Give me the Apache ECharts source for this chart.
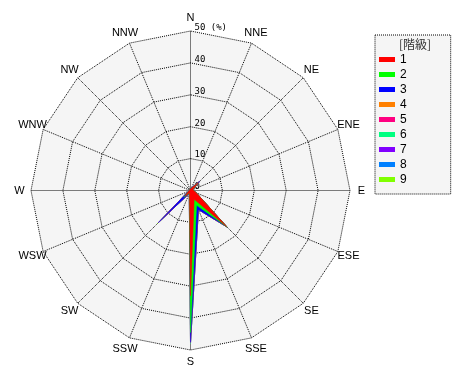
<!DOCTYPE html>
<html>
<head>
<meta charset="utf-8">
<script src="https://cdn.jsdelivr.net/npm/echarts@6/dist/echarts.min.js"></script>
<style>
html,body{margin:0;padding:0;background:#fff;}
#chart{width:470px;height:380px;}
</style>
</head>
<body>
<div id="chart"></div>
<script>
// Directions, clockwise from north
const directions = ['N','NNE','NE','ENE','E','ESE','SE','SSE','S','SSW','SW','WSW','W','WNW','NW','NNW'];
const classNames = ['1','2','3','4','5','6','7','8','9'];
const classColors = ['#ff0000','#00ff00','#0000ff','#ff8000','#ff0080','#00ff80','#8000ff','#0080ff','#80ff00'];
const radiusMax = 50;
const radiusSplits = 5;
// cumulative frequency (%) per class, in direction order above
const class1 = [0.5, 0.8, 3.4, 0.8, 1.0, 2.0, 16.0, 3.0, 33.0, 0.8, 2.5, 0.6, 0.4, 0.3, 0.3, 0.3];
const class2 = [0.5, 0.8, 3.4, 0.8, 1.0, 2.0, 16.2, 5.0, 44.5, 0.9, 3.0, 0.6, 0.4, 0.3, 0.3, 0.3];
const class3 = [0.6, 1.0, 4.1, 0.8, 1.0, 2.0, 16.2, 6.5, 47.6, 1.0, 14.3, 0.8, 0.4, 0.3, 0.3, 0.3];
const class4 = [0.6, 1.0, 4.1, 0.8, 1.0, 2.0, 16.2, 6.5, 47.6, 1.0, 14.3, 0.8, 0.4, 0.3, 0.3, 0.3];
const class5 = [0.6, 1.0, 4.1, 0.8, 1.0, 2.0, 16.2, 6.5, 47.6, 1.0, 14.3, 0.8, 0.4, 0.3, 0.3, 0.3];
const class6 = [0.6, 1.0, 4.1, 0.8, 1.0, 2.0, 16.2, 6.5, 47.9, 1.0, 14.3, 0.8, 0.4, 0.3, 0.3, 0.3];
const class7 = [0.6, 1.0, 4.1, 0.8, 1.0, 2.0, 16.2, 6.5, 47.9, 1.0, 14.3, 0.8, 0.4, 0.3, 0.3, 0.3];
const class8 = [0.6, 1.0, 4.1, 0.8, 1.0, 2.0, 16.2, 6.5, 47.9, 1.0, 14.3, 0.8, 0.4, 0.3, 0.3, 0.3];
const class9 = [0.6, 1.0, 4.1, 0.8, 1.0, 2.0, 16.2, 6.5, 48.1, 1.0, 14.7, 0.8, 0.4, 0.3, 0.3, 0.3];
const classValues = [class1, class2, class3, class4, class5, class6, class7, class8, class9];

// ECharts radar runs counter-clockwise; reorder so directions go clockwise
const order = [0].concat(directions.map((d, i) => i).slice(1).reverse());
const font = 'Liberation Sans, DejaVu Sans, sans-serif';

const indicator = order.map((i) => {
  const ind = { name: directions[i], max: radiusMax, min: 0 };
  if (i === 0) {
    ind.axisLabel = {
      show: true, color: '#000', fontSize: 9, fontFamily: 'DejaVu Sans Mono, monospace',
      margin: -4, align: 'left', verticalAlign: 'bottom', padding: [0, 0, -1, 0],
      formatter: (v) => v === radiusMax ? v + ' (%)' : String(v)
    };
  }
  return ind;
});

const series = [];
for (let k = classNames.length - 1; k >= 0; k--) {
  series.push({
    type: 'radar',
    name: classNames[k],
    symbol: 'none',
    silent: true,
    itemStyle: { color: classColors[k] },
    lineStyle: { width: 0.5, color: classColors[k] },
    areaStyle: { color: classColors[k], opacity: 1 },
    data: [{ name: classNames[k], value: order.map((i) => classValues[k][i]) }]
  });
}

const chart = echarts.init(document.getElementById('chart'), null, { renderer: 'canvas' });
chart.setOption({
  animation: false,
  backgroundColor: '#fff',
  title: {
    text: '[階級]', left: 399, top: 38, padding: 0,
    textStyle: { fontSize: 12, fontWeight: 'normal', color: '#333', fontFamily: 'Noto Sans CJK JP, sans-serif' }
  },
  legend: {
    data: classNames,
    orient: 'vertical', left: 375, top: 35,
    padding: [17, 44, 7, 4],
    itemWidth: 16, itemHeight: 5, itemGap: 0,
    icon: 'rect', selectedMode: false,
    backgroundColor: '#f5f5f5',
    borderColor: '#000', borderWidth: 1, borderType: [1, 1],
    textStyle: { fontSize: 12, color: '#000', lineHeight: 15, fontFamily: font }
  },
  radar: {
    center: [190.5, 190.5],
    radius: 159.5,
    startAngle: 90,
    shape: 'polygon',
    splitNumber: radiusSplits,
    nameGap: 11.5,
    axisName: { color: '#000', fontSize: 11, fontFamily: font, align: 'center', verticalAlign: 'middle' },
    axisLine: { lineStyle: { color: '#000', width: 1, type: [1, 1], cap: 'butt' } },
    splitLine: { lineStyle: { color: '#000', width: 1, type: [1, 1], cap: 'butt' } },
    splitArea: { areaStyle: { color: ['#f5f5f5'] } },
    axisLabel: { show: false },
    indicator: indicator
  },
  series: series
});
</script>
</body>
</html>
